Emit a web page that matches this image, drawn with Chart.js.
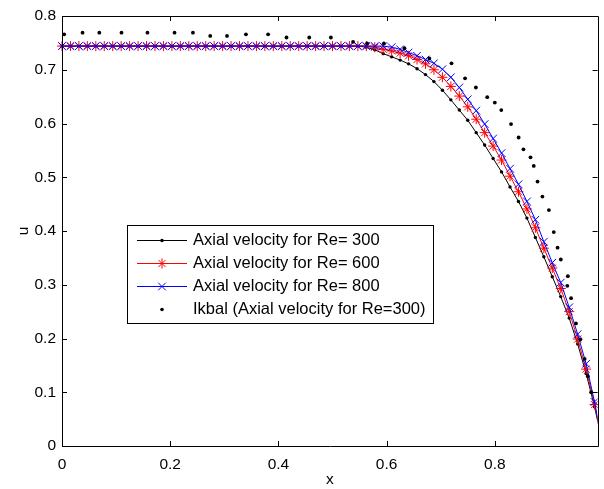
<!DOCTYPE html>
<html>
<head>
<meta charset="utf-8">
<script src="https://cdn.jsdelivr.net/npm/chart.js@4/dist/chart.umd.min.js"></script>
<style>
html,body{margin:0;padding:0;background:#fff;}
canvas{display:block;}
</style>
</head>
<body>
<canvas id="c" width="604" height="489"></canvas>
<script>
// grid positions (x)
const xGrid = [0,0.015625,0.03125,0.046875,0.0625,0.078125,0.09375,0.109375,0.125,0.140625,0.15625,0.171875,0.1875,0.203125,0.21875,0.234375,0.25,0.265625,0.28125,0.296875,0.3125,0.328125,0.34375,0.359375,0.375,0.390625,0.40625,0.421875,0.4375,0.453125,0.46875,0.484375,0.5,0.515625,0.53125,0.546875,0.5625,0.578125,0.59375,0.609375,0.625,0.640625,0.65625,0.671875,0.6875,0.703125,0.71875,0.734375,0.75,0.765625,0.78125,0.796875,0.8125,0.828125,0.84375,0.859375,0.875,0.890625,0.90625,0.921875,0.9375,0.953125,0.96875,0.984375,1];

const uRe300 = [0.744,0.744,0.744,0.744,0.744,0.744,0.744,0.744,0.744,0.744,0.744,0.744,0.744,0.744,0.744,0.744,0.744,0.744,0.744,0.744,0.744,0.744,0.744,0.744,0.744,0.744,0.744,0.744,0.744,0.744,0.744,0.744,0.744,0.744,0.744,0.744,
  0.742,0.737,0.730,0.724,0.718,0.711,0.702,0.691,0.678,0.662,0.644,0.625,0.606,0.583,0.560,0.535,0.510,0.482,0.455,0.424,0.388,0.352,0.315,0.278,0.238,0.190,0.135,0.073,0];

const uRe600 = [0.744,0.744,0.744,0.744,0.744,0.744,0.744,0.744,0.744,0.744,0.744,0.744,0.744,0.744,0.744,0.744,0.744,0.744,0.744,0.744,0.744,0.744,0.744,0.744,0.744,0.744,0.744,0.744,0.744,0.744,0.744,0.744,0.744,0.744,0.744,0.744,0.744,
  0.742,0.738,0.735,0.731,0.726,0.719,0.711,0.700,0.686,0.669,0.651,0.631,0.608,0.583,0.558,0.532,0.502,0.473,0.441,0.406,0.368,0.331,0.293,0.250,0.199,0.143,0.077,0];

const uRe800 = [0.744,0.744,0.744,0.744,0.744,0.744,0.744,0.744,0.744,0.744,0.744,0.744,0.744,0.744,0.744,0.744,0.744,0.744,0.744,0.744,0.744,0.744,0.744,0.744,0.744,0.744,0.744,0.744,0.744,0.744,0.744,0.744,0.744,0.744,0.744,0.744,0.744,0.744,0.744,
  0.742,0.738,0.732,0.726,0.719,0.712,0.701,0.686,0.667,0.645,0.624,0.599,0.572,0.545,0.516,0.487,0.455,0.421,0.380,0.341,0.304,0.258,0.208,0.153,0.082,0];

const ikbalX = [0.004,0.038,0.069,0.110,0.158,0.208,0.242,0.274,0.305,0.340,0.381,0.415,0.457,0.497,0.538,0.564,0.595,0.633,0.679,0.720,0.745,0.765,0.786,0.800,0.812,0.830,0.844,0.853,0.866,0.872,0.879,0.888,0.900,0.909,0.916,0.922,0.935,0.934,0.941,0.950,0.958,0.966,0.972,0.978];
const ikbalU = [0.766,0.769,0.769,0.769,0.769,0.769,0.769,0.763,0.763,0.766,0.766,0.760,0.760,0.760,0.752,0.749,0.749,0.740,0.721,0.712,0.684,0.667,0.649,0.639,0.625,0.599,0.574,0.552,0.537,0.521,0.492,0.464,0.439,0.398,0.369,0.347,0.316,0.298,0.275,0.228,0.198,0.162,0.130,0.100];

const legendLabels = ['Axial velocity for Re= 300','Axial velocity for Re= 600','Axial velocity for Re= 800','Ikbal (Axial velocity for Re=300)'];
const xTickVals = [0,0.2,0.4,0.6,0.8];

const toPts = (xs, ys) => xs.map((x, i) => ({x: x, y: ys[i]}));
const FONT = '"Liberation Sans", Arial, Helvetica, sans-serif';
const CLIP = {left: 10, top: 10, right: 0, bottom: 10};

const frameTicks = {
  id: 'frameTicks',
  afterDraw(chart) {
    const ctx = chart.ctx, a = chart.chartArea;
    const xs = chart.scales.x, ys = chart.scales.y;
    ctx.save();
    ctx.strokeStyle = '#000';
    ctx.lineWidth = 1;
    ctx.beginPath();
    ctx.rect(Math.round(a.left) + 0.5, Math.round(a.top) + 0.5, Math.round(a.right - a.left), Math.round(a.bottom - a.top));
    ctx.stroke();
    const L = 5;
    ctx.beginPath();
    xs.ticks.forEach(t => {
      const p = Math.round(xs.getPixelForValue(t.value)) + 0.5;
      ctx.moveTo(p, a.bottom); ctx.lineTo(p, a.bottom - L);
      ctx.moveTo(p, a.top); ctx.lineTo(p, a.top + L);
    });
    ys.ticks.forEach(t => {
      const p = Math.round(ys.getPixelForValue(t.value)) + 0.5;
      ctx.moveTo(a.left, p); ctx.lineTo(a.left + L, p);
      ctx.moveTo(a.right, p); ctx.lineTo(a.right - L, p);
    });
    ctx.stroke();

    // legend box
    const bx = a.left + 65, by = a.top + 209, bw = 306, bh = 98;
    ctx.fillStyle = '#fff';
    ctx.fillRect(bx, by, bw, bh);
    ctx.strokeRect(bx + 0.5, by + 0.5, bw, bh);
    const rowH = 23.3, y0 = by + 14.5;
    const lx1 = bx + 10, lx2 = bx + 60, mx = (lx1 + lx2) / 2;
    const styles = [
      {c: '#000', line: true, m: 'dot'},
      {c: '#ff0000', line: true, m: 'star'},
      {c: '#0000ff', line: true, m: 'x'},
      {c: '#000', line: false, m: 'dot'}
    ];
    ctx.font = '16.5px ' + FONT;
    ctx.textBaseline = 'middle';
    ctx.textAlign = 'left';
    styles.forEach((s, i) => {
      const y = Math.round(y0 + i * rowH) + 0.5;
      ctx.strokeStyle = s.c; ctx.fillStyle = s.c; ctx.lineWidth = 1;
      if (s.line) { ctx.beginPath(); ctx.moveTo(lx1, y); ctx.lineTo(lx2, y); ctx.stroke(); }
      ctx.beginPath();
      if (s.m === 'dot') { ctx.arc(mx, y, 1.8, 0, Math.PI * 2); ctx.fill(); }
      else if (s.m === 'star') {
        const r = 5;
        ctx.moveTo(mx - r, y); ctx.lineTo(mx + r, y);
        ctx.moveTo(mx, y - r); ctx.lineTo(mx, y + r);
        const d = r * 0.707;
        ctx.moveTo(mx - d, y - d); ctx.lineTo(mx + d, y + d);
        ctx.moveTo(mx - d, y + d); ctx.lineTo(mx + d, y - d);
        ctx.stroke();
      } else {
        const d = 3.8;
        ctx.moveTo(mx - d, y - d); ctx.lineTo(mx + d, y + d);
        ctx.moveTo(mx - d, y + d); ctx.lineTo(mx + d, y - d);
        ctx.stroke();
      }
      ctx.fillStyle = '#000';
      ctx.fillText(legendLabels[i], bx + 66, y);
    });
    ctx.restore();
  }
};

new Chart(document.getElementById('c'), {
  type: 'scatter',
  data: {
    datasets: [
      {label: legendLabels[0], data: toPts(xGrid, uRe300), showLine: true, borderColor: '#000', backgroundColor: '#000',
       borderWidth: 1, pointStyle: 'circle', pointRadius: 1.7, pointBorderWidth: 0, order: 3, clip: CLIP},
      {label: legendLabels[1], data: toPts(xGrid, uRe600), showLine: true, borderColor: '#ff0000', backgroundColor: '#ff0000',
       borderWidth: 1, pointStyle: 'star', pointRadius: 5, pointBorderWidth: 1, order: 2, clip: CLIP},
      {label: legendLabels[2], data: toPts(xGrid, uRe800), showLine: true, borderColor: '#0000ff', backgroundColor: '#0000ff',
       borderWidth: 1, pointStyle: 'crossRot', pointRadius: 5.4, pointBorderWidth: 1, order: 1, clip: CLIP},
      {label: legendLabels[3], data: toPts(ikbalX, ikbalU), showLine: false, borderColor: '#000', backgroundColor: '#000',
       pointStyle: 'circle', pointRadius: 1.9, pointBorderWidth: 0, order: 0, clip: CLIP}
    ]
  },
  options: {
    responsive: false,
    animation: false,
    events: [],
    layout: {padding: {left: 0, right: 1, top: 16, bottom: 0}},
    plugins: {legend: {display: false}, tooltip: {enabled: false}},
    elements: {line: {tension: 0}},
    scales: {
      x: {
        type: 'linear', min: 0, max: 0.99,
        afterFit(s) { s.height = 43; },
        afterBuildTicks(s) { s.ticks = xTickVals.map(v => ({value: v})); },
        grid: {display: false, drawTicks: false},
        border: {display: false},
        ticks: {color: '#000', padding: 9, font: {family: FONT, size: 15.5}, maxRotation: 0, autoSkip: false},
        title: {display: true, text: 'x', color: '#000', font: {family: FONT, size: 15.5}, padding: {top: 0, bottom: 0}}
      },
      y: {
        type: 'linear', min: 0, max: 0.8,
        afterFit(s) { s.width = 62; },
        grid: {display: false, drawTicks: false},
        border: {display: false},
        ticks: {color: '#000', padding: 6, stepSize: 0.1, font: {family: FONT, size: 15.5}},
        title: {display: true, text: 'u', color: '#000', font: {family: FONT, size: 15.5}, padding: {top: 14, bottom: 0}}
      }
    }
  },
  plugins: [frameTicks]
});
</script>
</body>
</html>
